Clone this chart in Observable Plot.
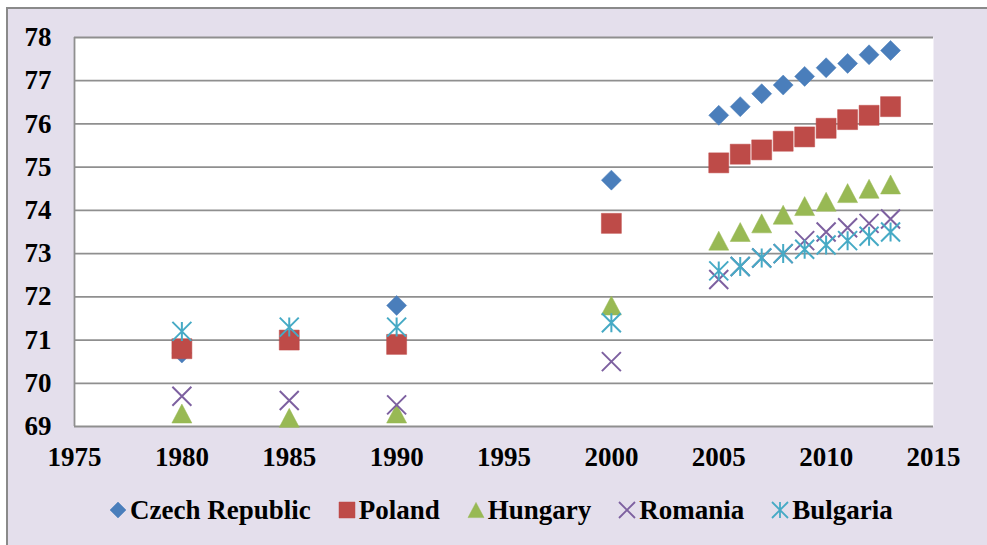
<!DOCTYPE html>
<html>
<head>
<meta charset="utf-8">
<script src="https://cdn.jsdelivr.net/npm/d3@7"></script>
<script src="https://cdn.jsdelivr.net/npm/@observablehq/plot@0.6"></script>
<style>
  body { margin: 0; background: #ffffff; width: 987px; height: 545px; overflow: hidden; position: relative; }
  #frame { position: absolute; left: 6px; top: 7px; width: 1000px; height: 560px; background: #e4dfec; border-top: 2px solid #8a8a8a; border-left: 2px solid #8a8a8a; }
  #chart { position: absolute; left: 0; top: 0; }
  #chart svg text { font-family: 'Liberation Serif', serif; font-weight: bold; }
  #legend { position: absolute; left: 110px; top: 495px; display: flex; align-items: center; gap: 28px;
            font-family: 'Liberation Serif', serif; font-weight: bold; font-size: 27px; line-height: 30px; color: #000; white-space: nowrap; }
  .item { display: flex; align-items: center; gap: 4px; }
  .item svg { overflow: visible; }
</style>
</head>
<body>
<div id="frame"></div>
<div id="chart"></div>
<div id="legend"></div>
<script>
// ---- data ----
const years = [1980, 1985, 1990, 2000, 2005, 2006, 2007, 2008, 2009, 2010, 2011, 2012, 2013];
const seriesNames = ["Czech Republic", "Poland", "Hungary", "Romania", "Bulgaria"];
const czech    = [70.7, 71.0, 71.8, 74.7, 76.2, 76.4, 76.7, 76.9, 77.1, 77.3, 77.4, 77.6, 77.7];
const poland   = [70.8, 71.0, 70.9, 73.7, 75.1, 75.3, 75.4, 75.6, 75.7, 75.9, 76.1, 76.2, 76.4];
const hungary  = [69.3, 69.2, 69.3, 71.8, 73.3, 73.5, 73.7, 73.9, 74.1, 74.2, 74.4, 74.5, 74.6];
const romania  = [69.7, 69.6, 69.5, 70.5, 72.4, 72.7, 72.9, 73.0, 73.3, 73.5, 73.6, 73.7, 73.8];
const bulgaria = [71.2, 71.3, 71.3, 71.4, 72.6, 72.7, 72.9, 73.0, 73.1, 73.2, 73.3, 73.4, 73.5];
const xTicks = [1975, 1980, 1985, 1990, 1995, 2000, 2005, 2010, 2015];
const yTicks = [69, 70, 71, 72, 73, 74, 75, 76, 77, 78];
const colors = ["#4a7ebb", "#be4b48", "#98b954", "#7d60a0", "#46aac5"];

// ---- custom marker shapes (Excel-like) ----
const rad = size => Math.sqrt(size / Math.PI);
const diamond = { draw(c, s) { const r = rad(s); c.moveTo(0, -r); c.lineTo(r, 0); c.lineTo(0, r); c.lineTo(-r, 0); c.closePath(); } };
const square = { draw(c, s) { const r = rad(s); c.moveTo(-r, -r); c.lineTo(r, -r); c.lineTo(r, r); c.lineTo(-r, r); c.closePath(); } };
const triangle = { draw(c, s) { const r = rad(s); c.moveTo(0, -0.95 * r); c.lineTo(r, 0.95 * r); c.lineTo(-r, 0.95 * r); c.closePath(); } };
const times = { draw(c, s) { const r = rad(s); c.moveTo(-r, -r); c.lineTo(r, r); c.moveTo(-r, r); c.lineTo(r, -r); } };
const star = { draw(c, s) { const r = rad(s); c.moveTo(-r, -r); c.lineTo(r, r); c.moveTo(-r, r); c.lineTo(r, -r); c.moveTo(0, -r); c.lineTo(0, r); } };

const values = [czech, poland, hungary, romania, bulgaria];
const symbols = [diamond, square, triangle, times, star];
const filled = [true, true, true, false, false];
const sizes = [10, 10, 10, 9.5, 9.5];

const tables = values.map((vals, i) => years.map((y, j) => ({ year: y, value: vals[j], series: seriesNames[i] })));

const dotMarks = tables.map((t, i) => filled[i]
  ? Plot.dot(t, { x: "year", y: "value", symbol: symbols[i], r: sizes[i], fill: colors[i], stroke: colors[i], strokeWidth: 0.5 })
  : Plot.dot(t, { x: "year", y: "value", symbol: symbols[i], r: sizes[i], fill: "none", stroke: colors[i], strokeWidth: 2 }));

const chart = Plot.plot({
  width: 987,
  height: 480,
  marginLeft: 74,
  marginRight: 54,
  marginTop: 37,
  marginBottom: 54,
  style: { fontFamily: "'Liberation Serif', serif", fontSize: "27px", fontWeight: "bold", color: "#000", background: "transparent", overflow: "visible" },
  x: { domain: [1975, 2015], ticks: xTicks, tickFormat: d => String(d), tickSize: 0, tickPadding: 20, label: null },
  y: { domain: [69, 78], ticks: yTicks, tickFormat: d => String(d), tickSize: 0, tickPadding: 23, label: null },
  marks: [
    Plot.frame({ fill: "white", stroke: null }),
    Plot.ruleY(yTicks, { stroke: "#8f8f8f", strokeWidth: 1.8 }),
    Plot.ruleX([1975], { stroke: "#8f8f8f", strokeWidth: 1.8 }),
    ...dotMarks
  ]
});
document.getElementById("chart").appendChild(chart);

// ---- legend ----
const legend = d3.select("#legend");
seriesNames.forEach((name, i) => {
  const item = legend.append("div").attr("class", "item");
  const svg = item.append("svg").attr("width", 16).attr("height", 18).attr("viewBox", "-8 -9 16 18");
  const path = d3.path();
  symbols[i].draw(path, Math.PI * 8 * 8);
  svg.append("path").attr("d", path.toString())
    .attr("fill", filled[i] ? colors[i] : "none")
    .attr("stroke", colors[i])
    .attr("stroke-width", filled[i] ? 0.5 : 1.8);
  item.append("span").text(name);
});
</script>
</body>
</html>
